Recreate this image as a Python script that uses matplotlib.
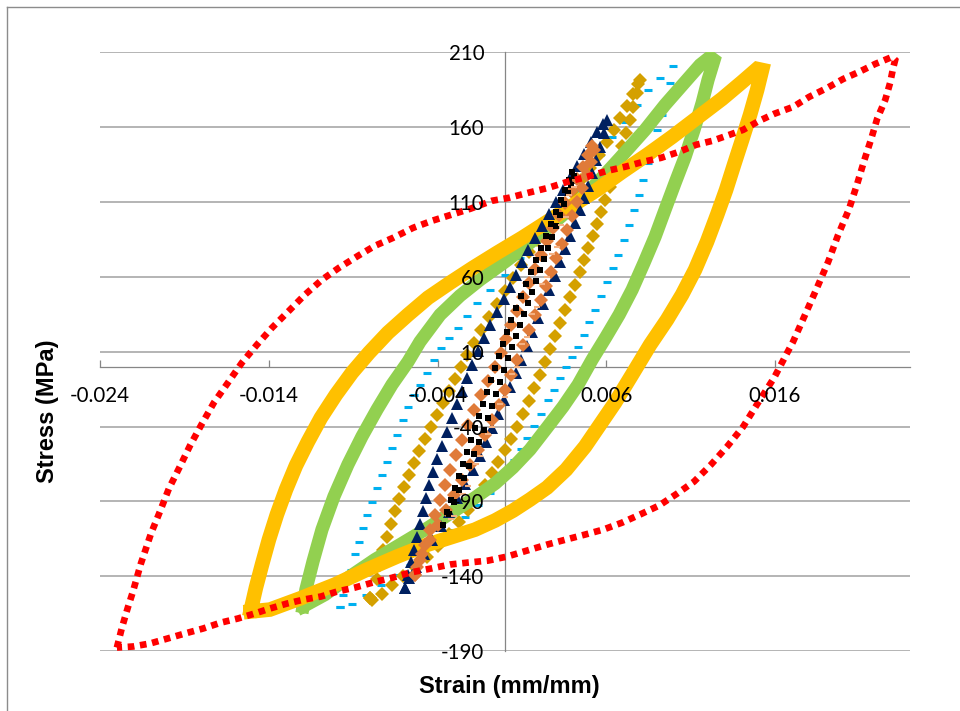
import matplotlib
matplotlib.use('Agg')
import matplotlib.pyplot as plt
import numpy as np

# Hysteresis loops (strain in mm/mm, stress in MPa).
# Each loop: rising branch from the compression tip, then the falling branch back.
red_strain = [-0.02300, -0.02270, -0.02235, -0.02205, -0.02158, -0.02098, -0.02045, -0.01992, -0.01927,
              -0.01867, -0.01796, -0.01725, -0.01642, -0.01559, -0.01470, -0.01381, -0.01280, -0.01186,
              -0.01085, -0.00984, -0.00871, -0.00771, -0.00664, -0.00545, -0.00433, -0.00320, -0.00207,
              -0.00077, 0.00024, 0.00136, 0.00255, 0.00368, 0.00486, 0.00605, 0.00711, 0.00818, 0.00925,
              0.01031, 0.01132, 0.01227, 0.01328, 0.01411, 0.01506, 0.01595, 0.01707, 0.01802, 0.01909,
              0.02004, 0.02098, 0.02193, 0.02294, 0.02312,
              0.02300, 0.02282, 0.02253, 0.02205, 0.02170, 0.02128, 0.02087, 0.02039, 0.01974, 0.01915,
              0.01849, 0.01778, 0.01707, 0.01666, 0.01595, 0.01500, 0.01411, 0.01316, 0.01221, 0.01120,
              0.01020, 0.00913, 0.00800, 0.00694, 0.00581, 0.00474, 0.00362, 0.00249, 0.00130, 0.00012,
              -0.00101, -0.00219, -0.00326, -0.00439, -0.00563, -0.00664, -0.00782, -0.00889, -0.00996,
              -0.01091, -0.01191, -0.01292, -0.01393, -0.01482, -0.01583, -0.01683, -0.01790, -0.01897,
              -0.01998, -0.02104, -0.02205, -0.02300]
red_stress = [-187.7, -174.3, -160.9, -150.3, -131.6, -111.5, -96.8, -81.5, -66.8, -52.8, -38.1, -24.0,
              -10.7, 2.7, 14.7, 26.0, 37.4, 48.1, 58.1, 66.1, 74.1, 80.8, 86.1, 92.8, 97.5, 101.5, 105.5,
              110.9, 112.9, 116.2, 119.5, 123.5, 126.9, 130.9, 133.6, 136.9, 139.6, 143.6, 148.3, 150.9,
              154.9, 158.3, 164.3, 169.0, 173.6, 180.3, 186.3, 192.3, 197.0, 202.3, 207.0, 205.0,
              199.7, 189.7, 178.3, 165.6, 152.3, 137.6, 122.2, 105.5, 88.1, 70.1, 52.8, 34.7, 16.7, 8.0,
              -7.3, -24.0, -40.1, -53.4, -65.4, -76.8, -84.8, -92.8, -98.8, -104.2, -108.9, -112.2, -115.5,
              -118.9, -122.9, -126.9, -129.6, -130.9, -132.2, -134.9, -137.6, -140.9, -144.2, -147.6,
              -150.3, -153.6, -155.6, -158.3, -161.6, -164.9, -168.3, -171.0, -175.0, -178.3, -181.6,
              -185.0, -187.0, -187.7]

yellow_strain = [-0.01506, -0.01476, -0.01440, -0.01399, -0.01352, -0.01298, -0.01239, -0.01168, -0.01091,
                 -0.01002, -0.00907, -0.00806, -0.00694, -0.00575, -0.00456, -0.00326, -0.00190, -0.00047,
                 0.00101, 0.00249, 0.00397, 0.00545, 0.00694, 0.00842, 0.00990, 0.01138, 0.01286, 0.01405,
                 0.01494, 0.01523,
                 0.01494, 0.01452, 0.01405, 0.01357, 0.01310, 0.01257, 0.01197, 0.01126, 0.01049, 0.00960,
                 0.00860, 0.00753, 0.00652, 0.00563, 0.00474, 0.00362, 0.00249, 0.00148, 0.00047, -0.00059,
                 -0.00178, -0.00326, -0.00474, -0.00640, -0.00818, -0.01008, -0.01215, -0.01393, -0.01506]
yellow_stress = [-162.3, -147.6, -132.2, -115.5, -98.8, -82.1, -66.1, -50.1, -34.1, -18.7, -4.0, 9.3, 22.7,
                 34.7, 46.1, 56.1, 66.1, 76.1, 86.1, 96.8, 107.5, 118.2, 130.2, 141.6, 153.6, 166.3, 179.0,
                 190.3, 199.0, 198.3,
                 185.0, 168.3, 151.6, 134.9, 118.2, 101.5, 83.5, 64.8, 48.1, 31.4, 14.7, -5.3, -24.0, -38.7,
                 -53.4, -68.8, -80.8, -88.8, -96.2, -102.8, -108.9, -114.2, -119.5, -126.9, -135.6, -145.6,
                 -154.9, -162.3, -163.6]

green_strain = [-0.01197, -0.01180, -0.01138, -0.01085, -0.01014, -0.00931, -0.00848, -0.00759, -0.00670,
                -0.00575, -0.00504, -0.00385, -0.00267, -0.00148, 0.0, 0.00148, 0.00296, 0.00445, 0.00563,
                0.00682, 0.00830, 0.00948, 0.01067, 0.01156, 0.01215, 0.01239,
                0.01203, 0.01168, 0.01120, 0.01067, 0.01008, 0.00948, 0.00889, 0.00824, 0.00753, 0.00676,
                0.00599, 0.00516, 0.00433, 0.00344, 0.00249, 0.00148, 0.00047, -0.00059, -0.00178, -0.00326,
                -0.00474, -0.00622, -0.00771, -0.00919, -0.01067, -0.01197]
green_stress = [-160.3, -148.9, -130.2, -108.9, -86.8, -65.4, -46.7, -28.7, -12.0, 3.3, 16.7, 34.7, 47.4,
                58.1, 70.1, 82.8, 96.8, 111.5, 124.9, 139.6, 158.3, 175.0, 190.3, 201.7, 207.0, 205.0,
                191.7, 176.3, 158.3, 140.2, 122.9, 104.8, 86.8, 69.5, 51.4, 34.7, 20.0, 4.7, -12.0, -26.7,
                -40.7, -55.4, -67.4, -78.1, -87.5, -98.2, -108.9, -118.9, -128.9, -140.2, -152.3, -160.3]

blue_strain = [-0.00978, -0.00960, -0.00937, -0.00913, -0.00889, -0.00865, -0.00842, -0.00818, -0.00788,
               -0.00759, -0.00729, -0.00699, -0.00670, -0.00640, -0.00605, -0.00575, -0.00539, -0.00504,
               -0.00462, -0.00421, -0.00379, -0.00332, -0.00279, -0.00225, -0.00166, -0.00089, 0.0,
               0.00089, 0.00178, 0.00267, 0.00356, 0.00427, 0.00492, 0.00563, 0.00634, 0.00711, 0.00782,
               0.00848, 0.00919, 0.00996,
               0.00978, 0.00954, 0.00931, 0.00901, 0.00877, 0.00848, 0.00818, 0.00794, 0.00765, 0.00735,
               0.00705, 0.00670, 0.00640, 0.00605, 0.00569, 0.00534, 0.00498, 0.00468, 0.00433, 0.00397,
               0.00362, 0.00326, 0.00290, 0.00255, 0.00213, 0.00172, 0.00130, 0.00095, 0.00053, 0.00012,
               -0.00030, -0.00089, -0.00160, -0.00237, -0.00314, -0.00397, -0.00480, -0.00563, -0.00646,
               -0.00735, -0.00824, -0.00907, -0.00978]
blue_stress = [-160.3, -152.3, -144.2, -135.6, -125.5, -116.9, -107.5, -98.8, -90.2, -80.8, -72.1, -63.4,
               -54.1, -45.4, -35.4, -26.7, -18.7, -12.0, -4.0, 4.7, 12.7, 19.4, 26.0, 34.1, 42.7, 51.4, 61.4,
               72.8, 84.8, 96.8, 108.2, 118.2, 128.2, 141.6, 153.6, 163.6, 175.0, 185.0, 193.0, 201.0,
               189.7, 178.3, 168.3, 158.3, 146.9, 136.2, 124.9, 114.9, 104.8, 94.8, 84.8, 74.8, 66.1, 56.8,
               47.4, 38.1, 30.1, 21.4, 13.4, 6.7, 0.0, -7.3, -15.4, -22.0, -31.4, -39.4, -47.4, -54.8, -62.1,
               -69.5, -76.1, -84.1, -92.2, -100.2, -108.9, -117.5, -125.5, -132.2, -138.9, -146.2, -152.9,
               -158.3, -160.3]

gold_strain = [-0.00800, -0.00759, -0.00741, -0.00723, -0.00699, -0.00676, -0.00652, -0.00628, -0.00599,
               -0.00569, -0.00539, -0.00510, -0.00474, -0.00439, -0.00403, -0.00368, -0.00332, -0.00296,
               -0.00261, -0.00225, -0.00184, -0.00142, -0.00095, -0.00047, 0.0, 0.00047, 0.00095, 0.00142,
               0.00190, 0.00237, 0.00290, 0.00344, 0.00397, 0.00451, 0.00504, 0.00557, 0.00605, 0.00646,
               0.00682, 0.00723, 0.00759, 0.00788, 0.00800,
               0.00782, 0.00759, 0.00741, 0.00717, 0.00694, 0.00670, 0.00646, 0.00622, 0.00593, 0.00569,
               0.00545, 0.00522, 0.00492, 0.00468, 0.00445, 0.00415, 0.00385, 0.00356, 0.00326, 0.00296,
               0.00267, 0.00237, 0.00207, 0.00172, 0.00142, 0.00107, 0.00071, 0.00036, 0.0, -0.00041,
               -0.00077, -0.00119, -0.00166, -0.00219, -0.00273, -0.00332, -0.00397, -0.00462, -0.00533,
               -0.00605, -0.00670, -0.00729, -0.00788, -0.00800]
gold_stress = [-154.3, -142.2, -132.2, -122.2, -113.5, -104.8, -96.2, -88.1, -80.1, -72.1, -64.1, -56.1,
               -48.1, -40.1, -32.1, -24.0, -16.0, -8.0, 0.0, 8.0, 16.0, 24.7, 33.4, 42.1, 50.8, 59.4, 68.1,
               76.8, 84.8, 92.8, 100.8, 108.9, 116.9, 124.9, 132.9, 141.6, 150.3, 158.3, 166.3, 174.3,
               182.3, 189.0, 191.7,
               183.0, 173.6, 164.9, 156.3, 147.6, 138.2, 129.6, 120.2, 111.5, 103.5, 95.5, 87.5, 79.5, 71.5,
               63.4, 54.8, 46.7, 38.1, 29.4, 20.7, 12.0, 3.3, -5.3, -14.0, -22.7, -31.4, -40.1, -48.1, -55.4,
               -63.4, -70.8, -78.8, -86.8, -95.5, -103.5, -111.5, -119.5, -126.9, -133.6, -140.2, -146.2,
               -151.6, -155.6, -154.3]

navy_strain = [-0.00593, -0.00575, -0.00557, -0.00539, -0.00522, -0.00504, -0.00486, -0.00468, -0.00451,
               -0.00427, -0.00403, -0.00373, -0.00344, -0.00314, -0.00285, -0.00255, -0.00225, -0.00196,
               -0.00160, -0.00124, -0.00089, -0.00047, -0.00006, 0.00030, 0.00065, 0.00101, 0.00136,
               0.00178, 0.00219, 0.00261, 0.00302, 0.00344, 0.00385, 0.00427, 0.00468, 0.00510, 0.00545,
               0.00581, 0.00605,
               0.00587, 0.00563, 0.00539, 0.00516, 0.00492, 0.00468, 0.00445, 0.00415, 0.00385, 0.00356,
               0.00326, 0.00296, 0.00261, 0.00225, 0.00196, 0.00160, 0.00130, 0.00095, 0.00065, 0.00030,
               -0.00006, -0.00041, -0.00077, -0.00113, -0.00148, -0.00190, -0.00237, -0.00285, -0.00332,
               -0.00379, -0.00433, -0.00480, -0.00528, -0.00569, -0.00593]
navy_stress = [-147.6, -138.9, -130.2, -122.2, -113.5, -104.8, -96.2, -87.5, -78.8, -70.1, -61.4, -52.8,
               -43.4, -34.1, -24.7, -16.0, -7.3, 1.3, 10.7, 19.4, 28.0, 36.7, 45.4, 53.4, 61.4, 70.1, 78.1,
               86.1, 94.2, 102.2, 110.2, 118.2, 126.2, 134.2, 142.2, 150.3, 156.9, 162.3, 164.9,
               156.3, 146.9, 138.2, 129.6, 120.9, 112.9, 104.8, 96.2, 87.5, 78.8, 70.1, 60.8, 51.4, 42.1,
               32.7, 23.4, 14.0, 4.7, -4.0, -13.4, -22.0, -31.4, -40.7, -50.1, -59.4, -68.8, -78.1, -87.5,
               -96.8, -106.2, -115.5, -124.9, -133.6, -140.9, -147.6]

orange_strain = [-0.00533, -0.00504, -0.00474, -0.00445, -0.00415, -0.00385, -0.00356, -0.00326, -0.00290,
                 -0.00255, -0.00219, -0.00184, -0.00142, -0.00101, -0.00059, -0.00024, 0.00006, 0.00036,
                 0.00071, 0.00107, 0.00142, 0.00178, 0.00213, 0.00249, 0.00285, 0.00320, 0.00356, 0.00391,
                 0.00427, 0.00462, 0.00492, 0.00516,
                 0.00528, 0.00510, 0.00486, 0.00456, 0.00427, 0.00397, 0.00368, 0.00338, 0.00302, 0.00273,
                 0.00243, 0.00213, 0.00178, 0.00142, 0.00107, 0.00071, 0.00036, 0.0, -0.00036, -0.00077,
                 -0.00119, -0.00160, -0.00207, -0.00255, -0.00302, -0.00350, -0.00397, -0.00445, -0.00492,
                 -0.00522, -0.00533]
orange_stress = [-138.9, -128.9, -118.9, -108.9, -98.8, -88.8, -78.8, -68.8, -58.8, -48.7, -38.7, -28.7,
                 -18.7, -9.3, 0.0, 9.3, 18.7, 28.0, 37.4, 46.7, 56.1, 65.4, 74.8, 84.1, 92.8, 101.5, 109.5,
                 117.5, 125.5, 133.6, 141.6, 147.6,
                 144.9, 136.9, 128.2, 119.5, 110.2, 100.8, 91.5, 82.1, 72.8, 63.4, 54.1, 44.7, 34.7, 24.7,
                 14.7, 4.7, -5.3, -15.4, -25.4, -35.4, -45.4, -55.4, -65.4, -75.5, -85.5, -95.5, -105.5,
                 -115.5, -125.5, -133.6, -138.9]

black_strain = [-0.00368, -0.00344, -0.00320, -0.00296, -0.00273, -0.00249, -0.00225, -0.00202, -0.00178,
                -0.00154, -0.00130, -0.00107, -0.00083, -0.00059, -0.00036, -0.00012, 0.00012, 0.00036,
                0.00065, 0.00095, 0.00124, 0.00154, 0.00184, 0.00213, 0.00243, 0.00273, 0.00302, 0.00332,
                0.00356, 0.00379, 0.00397,
                0.00409, 0.00391, 0.00373, 0.00350, 0.00326, 0.00302, 0.00279, 0.00255, 0.00231, 0.00207,
                0.00184, 0.00160, 0.00136, 0.00113, 0.00089, 0.00065, 0.00041, 0.00018, -0.00006, -0.00030,
                -0.00053, -0.00077, -0.00101, -0.00124, -0.00154, -0.00184, -0.00213, -0.00243, -0.00273,
                -0.00302, -0.00332]
black_stress = [-105.5, -96.8, -88.8, -80.8, -72.8, -64.8, -56.8, -48.7, -40.7, -32.7, -24.7, -16.7, -8.7,
                -0.7, 7.3, 15.4, 23.4, 31.4, 39.4, 47.4, 55.4, 63.4, 71.5, 79.5, 87.5, 95.5, 103.5, 111.5,
                118.2, 124.9, 130.2,
                127.5, 121.5, 116.2, 108.9, 101.5, 94.2, 86.8, 79.5, 72.1, 64.8, 57.4, 50.1, 42.7, 35.4,
                28.0, 20.7, 13.4, 6.0, -2.0, -10.0, -18.0, -26.0, -34.1, -42.1, -50.1, -58.1, -66.1, -74.1,
                -82.1, -90.2, -98.2]

salmon_strain = [-0.0030, -0.0022, -0.0015, -0.0008, 0.0, 0.0007, 0.0013, 0.0019, 0.0025, 0.0031, 0.0036,
                 0.0041, 0.0038, 0.0033, 0.0028, 0.0022, 0.0016, 0.0010, 0.0004, -0.0003, -0.0010, -0.0017,
                 -0.0025, -0.0032]
salmon_stress = [-100, -80, -60, -40, -20, 0, 20, 40, 60, 80, 100, 120, 115, 95, 75, 55, 35, 15, -5, -25,
                 -45, -65, -85, -102]

x_ticks = [-0.024, -0.014, -0.004, 0.006, 0.016]
y_ticks = [-190, -140, -90, -40, 10, 60, 110, 160, 210]

plt.rcParams['font.family'] = ['Lato', 'DejaVu Sans']
plt.rcParams['axes.unicode_minus'] = False


def main():
    fig = plt.figure(figsize=(9.6, 7.11), dpi=100)
    ax = fig.add_axes([0.1042, 0.0844, 0.84375, 0.8418])

    # horizontal gridlines drawn by hand so tick labels can sit above the series
    for yv in y_ticks:
        ax.axhline(yv, color='#A0A0A0', lw=1.1, zorder=1)

    # series, bottom to top
    ax.plot(blue_strain, blue_stress, ls='none', marker='_', ms=5.5, mew=2.2,
            color='#00B0F0', zorder=3)
    ax.plot(gold_strain, gold_stress, ls='none', marker='D', ms=7.2, mew=0,
            color='#D4A000', zorder=4)
    ax.plot(green_strain, green_stress, color='#92D050', lw=9.5,
            solid_joinstyle='miter', zorder=5)
    ax.plot(yellow_strain, yellow_stress, color='#FFC000', lw=10.5,
            solid_joinstyle='miter', zorder=6)
    ax.plot(navy_strain, navy_stress, ls='none', marker='^', ms=9, mew=0,
            color='#002060', zorder=7)
    ax.plot(orange_strain, orange_stress, ls='none', marker='D', ms=7.2, mew=0,
            color='#E07B39', zorder=8)
    ax.plot(black_strain, black_stress, ls='none', marker='s', ms=3.8, mew=0,
            color='black', zorder=9)
    ax.plot(salmon_strain, salmon_stress, ls='none', marker='_', ms=5, mew=1.5,
            color='#F4B183', zorder=9)
    # square dots along the outer loop
    ax.plot(red_strain, red_stress, color='#FF0000', lw=4.8, ls=(0, (1, 0.85)),
            dash_capstyle='butt', dash_joinstyle='miter', zorder=10)

    ax.set_xlim(-0.024, 0.024)
    ax.set_ylim(-190, 210)
    ax.set_xticks(x_ticks)
    ax.set_xticklabels(['%.3f' % v for v in x_ticks])
    ax.set_yticks(y_ticks)
    ax.set_yticklabels([str(v) for v in y_ticks])
    ax.grid(False)
    ax.xaxis.set_zorder(12)
    ax.yaxis.set_zorder(12)

    for side in ['top', 'right']:
        ax.spines[side].set_visible(False)
    for side in ['left', 'bottom']:
        ax.spines[side].set_position(('data', 0))
        ax.spines[side].set_color('#868686')
        ax.spines[side].set_linewidth(0.9)
        ax.spines[side].set_zorder(2)

    ax.tick_params(axis='x', direction='in', length=5, width=0.9, color='#868686',
                   pad=14, labelsize=14.8, labelcolor='black')
    ax.tick_params(axis='y', length=0, pad=15, labelsize=14.8, labelcolor='black')

    fig.text(0.049, 0.422, 'Stress (MPa)', rotation=90, ha='center', va='center',
             fontsize=17, fontweight='bold', family='Liberation Sans')
    fig.text(0.531, 0.034, 'Strain (mm/mm)', ha='center', va='center',
             fontsize=17, fontweight='bold', family='Liberation Sans')

    # chart area border (left and top edges fall inside the picture)
    fig.add_artist(plt.Line2D([7 / 960, 7 / 960], [0, 1 - 7 / 711], color='#8C8C8C',
                              lw=1, transform=fig.transFigure))
    fig.add_artist(plt.Line2D([7 / 960, 1], [1 - 7 / 711, 1 - 7 / 711], color='#8C8C8C',
                              lw=1, transform=fig.transFigure))

    fig.savefig('out.png', dpi=100)


if __name__ == '__main__':
    main()
